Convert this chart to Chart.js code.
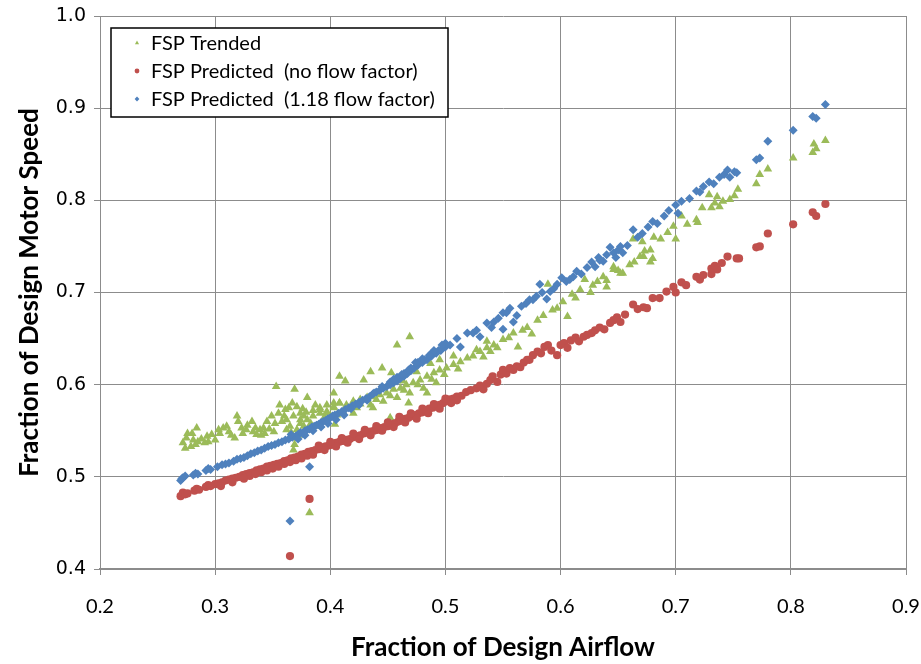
<!DOCTYPE html>
<html>
<head>
<meta charset="utf-8">
<script src="https://cdn.jsdelivr.net/npm/chart.js@4"></script>
<style>
  html, body { margin: 0; padding: 0; background: #fff; }
  canvas { display: block; }
</style>
</head>
<body>
<canvas id="fspCanvas" width="921" height="664"></canvas>
<script>
// axis ticks
const airflowTicks = [0.2, 0.3, 0.4, 0.5, 0.6, 0.7, 0.8, 0.9];
const speedTicks = [0.4, 0.5, 0.6, 0.7, 0.8, 0.9, 1.0];

const seriesNames = ["FSP Trended", "FSP Predicted  (no flow factor)", "FSP Predicted  (1.18 flow factor)"];

// [fraction of design airflow, fraction of design motor speed]
const fspTrended = [
  [0.272,0.537],[0.274,0.531],[0.275,0.542],[0.280,0.547],[0.281,0.540],[0.283,0.535],[0.284,0.553],[0.285,0.538],
  [0.293,0.544],[0.294,0.538],[0.291,0.537],[0.303,0.551],[0.304,0.547],[0.310,0.555],[0.312,0.549],[0.317,0.542],
  [0.319,0.566],[0.320,0.560],[0.323,0.553],[0.324,0.547],[0.327,0.551],[0.332,0.560],[0.333,0.549],[0.336,0.546],
  [0.339,0.551],[0.342,0.553],[0.343,0.547],[0.345,0.560],[0.349,0.566],[0.351,0.549],[0.352,0.558],[0.355,0.569],
  [0.353,0.598],[0.356,0.578],[0.361,0.573],[0.364,0.575],[0.367,0.580],[0.369,0.595],[0.371,0.576],[0.374,0.569],
  [0.380,0.586],[0.377,0.566],[0.362,0.551],[0.368,0.542],[0.368,0.529],[0.369,0.535],[0.374,0.558],[0.380,0.562],
  [0.385,0.566],[0.391,0.569],[0.397,0.571],[0.403,0.575],[0.388,0.555],[0.382,0.551],[0.394,0.560],[0.400,0.566],
  [0.406,0.567],[0.365,0.555],[0.371,0.551],[0.362,0.562],[0.368,0.566],[0.374,0.562],[0.379,0.570],[0.385,0.572],
  [0.391,0.575],[0.397,0.578],[0.403,0.580],[0.408,0.580],[0.366,0.548],[0.372,0.545],[0.377,0.555],[0.383,0.558],
  [0.391,0.573],[0.397,0.569],[0.403,0.576],[0.408,0.580],[0.414,0.578],[0.420,0.582],[0.426,0.584],[0.432,0.586],
  [0.437,0.587],[0.443,0.589],[0.449,0.591],[0.455,0.595],[0.461,0.596],[0.466,0.600],[0.472,0.602],[0.478,0.605],
  [0.484,0.609],[0.490,0.613],[0.495,0.616],[0.501,0.618],[0.507,0.622],[0.513,0.625],[0.519,0.629],[0.524,0.631],
  [0.530,0.636],[0.536,0.640],[0.542,0.643],[0.400,0.566],[0.411,0.571],[0.423,0.575],[0.435,0.578],[0.446,0.582],
  [0.458,0.586],[0.469,0.591],[0.481,0.596],[0.492,0.602],[0.458,0.643],[0.469,0.652],[0.408,0.609],[0.435,0.614],
  [0.445,0.618],[0.453,0.613],[0.429,0.605],[0.413,0.604],[0.403,0.591],[0.468,0.580],[0.484,0.591],[0.452,0.564],
  [0.404,0.557],[0.437,0.575],[0.420,0.569],[0.463,0.604],[0.475,0.614],[0.487,0.623],[0.495,0.627],[0.507,0.631],
  [0.527,0.638],[0.536,0.647],[0.533,0.630],[0.539,0.636],[0.545,0.640],[0.550,0.649],[0.555,0.651],[0.559,0.656],
  [0.563,0.641],[0.567,0.659],[0.571,0.662],[0.575,0.655],[0.580,0.670],[0.585,0.675],[0.589,0.709],[0.593,0.681],
  [0.597,0.683],[0.602,0.690],[0.606,0.674],[0.610,0.698],[0.613,0.694],[0.617,0.703],[0.621,0.714],[0.626,0.700],
  [0.628,0.708],[0.632,0.712],[0.637,0.717],[0.640,0.713],[0.646,0.728],[0.650,0.724],[0.654,0.721],[0.660,0.730],
  [0.672,0.739],[0.678,0.746],[0.640,0.706],[0.646,0.725],[0.652,0.721],[0.664,0.733],[0.669,0.739],[0.673,0.745],
  [0.678,0.733],[0.680,0.737],[0.663,0.758],[0.671,0.755],[0.681,0.760],[0.687,0.758],[0.693,0.765],[0.700,0.758],
  [0.698,0.772],[0.705,0.783],[0.710,0.774],[0.718,0.779],[0.719,0.776],[0.723,0.792],[0.729,0.806],[0.731,0.792],
  [0.734,0.797],[0.736,0.804],[0.738,0.793],[0.741,0.799],[0.747,0.801],[0.751,0.805],[0.754,0.812],[0.770,0.818],
  [0.773,0.828],[0.780,0.834],[0.802,0.846],[0.819,0.852],[0.822,0.856],[0.820,0.861],[0.830,0.865],
  [0.276,0.547],[0.279,0.533],[0.288,0.541],[0.297,0.546],[0.300,0.540],[0.307,0.553],[0.314,0.545],[0.328,0.556],
  [0.335,0.553],[0.340,0.545],[0.347,0.552],[0.358,0.560],[0.360,0.566],[0.376,0.574],[0.387,0.578],[0.395,0.565],
  [0.426,0.579],[0.440,0.584],[0.452,0.588],[0.464,0.594],[0.476,0.600],[0.488,0.606],[0.499,0.611],[0.511,0.617],
  [0.382,0.461]
];

const fspPredictedNoFactor = [
  [0.270,0.479],[0.272,0.483],[0.274,0.481],[0.276,0.482],[0.282,0.485],[0.284,0.487],[0.286,0.486],[0.292,0.489],
  [0.294,0.491],[0.296,0.490],[0.300,0.492],[0.303,0.493],[0.306,0.494],[0.309,0.496],[0.312,0.497],[0.315,0.498],
  [0.318,0.499],[0.321,0.500],[0.324,0.502],[0.327,0.503],[0.330,0.504],[0.333,0.505],[0.336,0.507],[0.339,0.508],
  [0.342,0.509],[0.345,0.511],[0.348,0.512],[0.351,0.513],[0.354,0.514],[0.357,0.515],[0.360,0.517],[0.363,0.518],
  [0.366,0.520],[0.369,0.521],[0.372,0.522],[0.375,0.524],[0.378,0.525],[0.381,0.527],[0.384,0.528],[0.387,0.529],
  [0.390,0.530],[0.393,0.532],[0.396,0.533],[0.399,0.534],[0.402,0.535],[0.405,0.537],[0.408,0.538],[0.411,0.539],
  [0.414,0.540],[0.417,0.541],[0.420,0.543],[0.423,0.544],[0.426,0.545],[0.429,0.547],[0.432,0.548],[0.435,0.549],
  [0.438,0.550],[0.441,0.551],[0.444,0.553],[0.447,0.554],[0.450,0.555],[0.453,0.557],[0.456,0.558],[0.459,0.560],
  [0.462,0.561],[0.465,0.563],[0.468,0.564],[0.471,0.566],[0.474,0.567],[0.477,0.569],[0.480,0.570],[0.483,0.572],
  [0.486,0.574],[0.489,0.575],[0.492,0.577],[0.495,0.578],[0.498,0.580],[0.501,0.582],[0.504,0.584],[0.507,0.585],
  [0.510,0.587],[0.514,0.588],[0.365,0.516],[0.375,0.520],[0.385,0.524],[0.395,0.529],[0.405,0.533],[0.415,0.537],
  [0.425,0.541],[0.435,0.545],[0.445,0.550],[0.455,0.554],[0.465,0.559],[0.475,0.563],[0.485,0.569],[0.495,0.574],
  [0.505,0.580],[0.420,0.547],[0.440,0.555],[0.460,0.565],[0.480,0.574],[0.500,0.585],
  [0.330,0.501],[0.340,0.505],[0.350,0.509],[0.360,0.514],[0.370,0.518],[0.380,0.523],[0.390,0.534],[0.400,0.538],
  [0.410,0.542],[0.430,0.551],[0.450,0.559],[0.470,0.569],[0.490,0.579],[0.510,0.583],
  [0.305,0.490],[0.315,0.494],[0.325,0.498],[0.335,0.503],[0.345,0.507],[0.355,0.511],
  [0.518,0.592],[0.522,0.594],[0.527,0.596],[0.530,0.599],[0.533,0.595],[0.536,0.601],[0.539,0.605],[0.541,0.609],
  [0.545,0.603],[0.548,0.611],[0.550,0.616],[0.553,0.612],[0.556,0.618],[0.559,0.616],[0.562,0.620],[0.565,0.619],
  [0.568,0.624],[0.571,0.627],[0.573,0.627],[0.576,0.632],[0.580,0.636],[0.583,0.634],[0.586,0.641],[0.589,0.643],
  [0.592,0.637],[0.597,0.632],[0.600,0.643],[0.603,0.645],[0.606,0.640],[0.609,0.648],[0.613,0.651],[0.616,0.647],
  [0.620,0.652],[0.623,0.654],[0.627,0.656],[0.630,0.659],[0.634,0.662],[0.638,0.660],[0.643,0.667],[0.646,0.670],
  [0.649,0.673],[0.652,0.668],[0.656,0.676],[0.663,0.687],[0.667,0.682],[0.672,0.684],[0.675,0.683],[0.680,0.694],
  [0.686,0.694],[0.692,0.701],[0.698,0.706],[0.700,0.700],[0.705,0.711],[0.709,0.708],[0.718,0.717],[0.721,0.714],
  [0.724,0.719],[0.731,0.720],[0.731,0.726],[0.734,0.729],[0.736,0.725],[0.740,0.732],[0.745,0.739],[0.753,0.737],
  [0.755,0.737],[0.770,0.749],[0.773,0.750],[0.780,0.764],[0.802,0.774],[0.819,0.787],[0.822,0.783],[0.830,0.796],
  [0.365,0.414],[0.382,0.476]
];

const fspPredicted118 = [
  [0.270,0.496],[0.272,0.499],[0.274,0.501],[0.271,0.498],[0.281,0.502],[0.283,0.504],[0.285,0.503],[0.292,0.507],
  [0.294,0.509],[0.296,0.508],[0.302,0.511],[0.306,0.513],[0.309,0.514],[0.312,0.515],[0.316,0.517],[0.319,0.519],
  [0.322,0.520],[0.325,0.521],[0.328,0.523],[0.331,0.525],[0.334,0.526],[0.337,0.528],[0.340,0.529],[0.343,0.531],
  [0.346,0.533],[0.349,0.534],[0.352,0.535],[0.355,0.537],[0.358,0.538],[0.361,0.540],[0.364,0.541],[0.367,0.543],
  [0.370,0.544],[0.372,0.546],[0.374,0.548],[0.376,0.547],[0.378,0.550],[0.380,0.551],[0.382,0.552],[0.384,0.554],
  [0.386,0.555],[0.388,0.556],[0.390,0.557],[0.392,0.559],[0.394,0.560],[0.396,0.561],[0.398,0.563],[0.400,0.564],
  [0.402,0.566],[0.404,0.567],[0.407,0.569],[0.410,0.571],[0.413,0.573],[0.416,0.575],[0.419,0.577],[0.422,0.579],
  [0.425,0.581],[0.428,0.583],[0.431,0.585],[0.434,0.587],[0.437,0.590],[0.440,0.592],[0.443,0.594],[0.446,0.596],
  [0.449,0.598],[0.452,0.600],[0.455,0.602],[0.458,0.604],[0.461,0.607],[0.464,0.609],[0.467,0.612],[0.470,0.615],
  [0.473,0.618],[0.476,0.621],[0.480,0.624],[0.484,0.627],[0.488,0.631],[0.492,0.634],[0.496,0.637],[0.500,0.641],
  [0.366,0.546],[0.372,0.541],[0.378,0.545],[0.385,0.550],[0.392,0.554],[0.398,0.558],[0.405,0.562],[0.412,0.567],
  [0.418,0.574],[0.425,0.578],[0.432,0.583],[0.438,0.591],[0.445,0.598],[0.452,0.603],[0.458,0.608],[0.464,0.612],
  [0.470,0.618],[0.476,0.624],[0.482,0.627],[0.488,0.634],[0.494,0.637],[0.500,0.645],[0.455,0.606],[0.462,0.611],
  [0.468,0.616],[0.474,0.624],[0.480,0.628],[0.486,0.632],[0.490,0.637],[0.497,0.643],
  [0.504,0.643],[0.510,0.650],[0.513,0.641],[0.519,0.656],[0.524,0.656],[0.527,0.659],[0.530,0.652],[0.536,0.667],
  [0.540,0.662],[0.542,0.668],[0.546,0.672],[0.550,0.678],[0.550,0.660],[0.553,0.678],[0.556,0.683],[0.559,0.668],
  [0.562,0.675],[0.566,0.685],[0.570,0.688],[0.573,0.692],[0.576,0.692],[0.579,0.696],[0.582,0.709],[0.584,0.700],
  [0.588,0.693],[0.591,0.701],[0.594,0.704],[0.597,0.709],[0.601,0.716],[0.605,0.712],[0.608,0.714],[0.611,0.717],
  [0.614,0.723],[0.618,0.720],[0.623,0.727],[0.627,0.733],[0.630,0.728],[0.633,0.738],[0.637,0.734],[0.640,0.741],
  [0.634,0.735],[0.643,0.749],[0.646,0.743],[0.648,0.738],[0.650,0.746],[0.652,0.750],[0.654,0.743],[0.658,0.751],
  [0.663,0.768],[0.667,0.760],[0.671,0.764],[0.676,0.771],[0.680,0.777],[0.684,0.775],[0.690,0.783],[0.694,0.789],
  [0.700,0.795],[0.702,0.786],[0.705,0.799],[0.712,0.802],[0.718,0.810],[0.721,0.809],[0.724,0.815],[0.729,0.820],
  [0.733,0.818],[0.738,0.825],[0.742,0.828],[0.745,0.833],[0.747,0.825],[0.751,0.831],[0.753,0.830],[0.770,0.844],
  [0.773,0.846],[0.780,0.864],[0.802,0.876],[0.819,0.891],[0.822,0.889],[0.830,0.904],
  [0.365,0.452],[0.382,0.511]
];

const toPoints = arr => arr.map(p => ({x: p[0], y: p[1]}));

const legendBox = {
  id: "legendBox",
  afterDatasetsDraw(chart) {
    const ctx = chart.ctx;
    const a = chart.chartArea;
    const bx = a.left + 11, by = a.top + 12, bw = 337, bh = 89;
    ctx.save();
    ctx.fillStyle = "#ffffff";
    ctx.fillRect(bx, by, bw, bh);
    ctx.strokeStyle = "#000000";
    ctx.lineWidth = 1.5;
    ctx.strokeRect(bx, by, bw, bh);
    ctx.font = "20px Lato";
    ctx.textBaseline = "middle";
    chart.data.datasets.forEach((ds, i) => {
      const ly = by + 15 + i * 28;
      ctx.fillStyle = ds.backgroundColor;
      Chart.helpers.drawPoint(ctx, {pointStyle: ds.pointStyle, radius: 2.4, borderWidth: 0, rotation: 0}, bx + 26, ly);
      ctx.fillStyle = "#000000";
      ctx.fillText(ds.label, bx + 40, ly + 1);
    });
    ctx.restore();
  }
};

const gridColor = "#8c8c8c";

new Chart(document.getElementById("fspCanvas"), {
  type: "scatter",
  data: {
    datasets: [
      {label: seriesNames[0], data: toPoints(fspTrended), pointStyle: "triangle", backgroundColor: "#9bbb59",
       borderColor: "#9bbb59", pointRadius: 5, pointBorderWidth: 0, order: 3},
      {label: seriesNames[1], data: toPoints(fspPredictedNoFactor), pointStyle: "circle", backgroundColor: "#c0504d",
       borderColor: "#c0504d", pointRadius: 4.1, pointBorderWidth: 0, order: 2},
      {label: seriesNames[2], data: toPoints(fspPredicted118), pointStyle: "rectRot", backgroundColor: "#4f81bd",
       borderColor: "#4f81bd", pointRadius: 4.5, pointBorderWidth: 0, order: 1}
    ]
  },
  options: {
    responsive: false,
    animation: false,
    devicePixelRatio: 1,
    layout: {padding: {top: 16, right: 15, left: 0, bottom: 0}},
    plugins: {legend: {display: false}, tooltip: {enabled: false}},
    scales: {
      x: {
        type: "linear", min: 0.2, max: 0.9,
        afterBuildTicks: s => { s.ticks = airflowTicks.map(v => ({value: v})); },
        afterFit: s => { s.height = 95; s.paddingLeft = 0; s.paddingRight = 0; },
        grid: {color: gridColor, lineWidth: 1, tickLength: 6},
        border: {color: gridColor, width: 2},
        ticks: {color: "#000", padding: 20, font: {family: "Lato", size: 20},
                callback: v => Number(v).toFixed(1), maxRotation: 0},
        title: {display: true, text: "Fraction of Design Airflow", color: "#000",
                font: {family: "Lato", weight: "bold", size: 26}, padding: {top: 0, bottom: 1}}
      },
      y: {
        type: "linear", min: 0.4, max: 1.0,
        afterBuildTicks: s => { s.ticks = speedTicks.map(v => ({value: v})); },
        afterFit: s => { s.width = 100; s.paddingTop = 0; s.paddingBottom = 0; },
        grid: {color: gridColor, lineWidth: 1, tickLength: 6},
        border: {color: gridColor, width: 1},
        ticks: {color: "#000", padding: 8, font: {family: "DejaVu Sans", size: 19},
                callback: v => Number(v).toFixed(1)},
        title: {display: true, text: "Fraction of Design Motor Speed", color: "#000",
                font: {family: "Lato", weight: "bold", size: 26}, padding: {top: 14, bottom: 0}}
      }
    }
  },
  plugins: [legendBox]
});
</script>
</body>
</html>
